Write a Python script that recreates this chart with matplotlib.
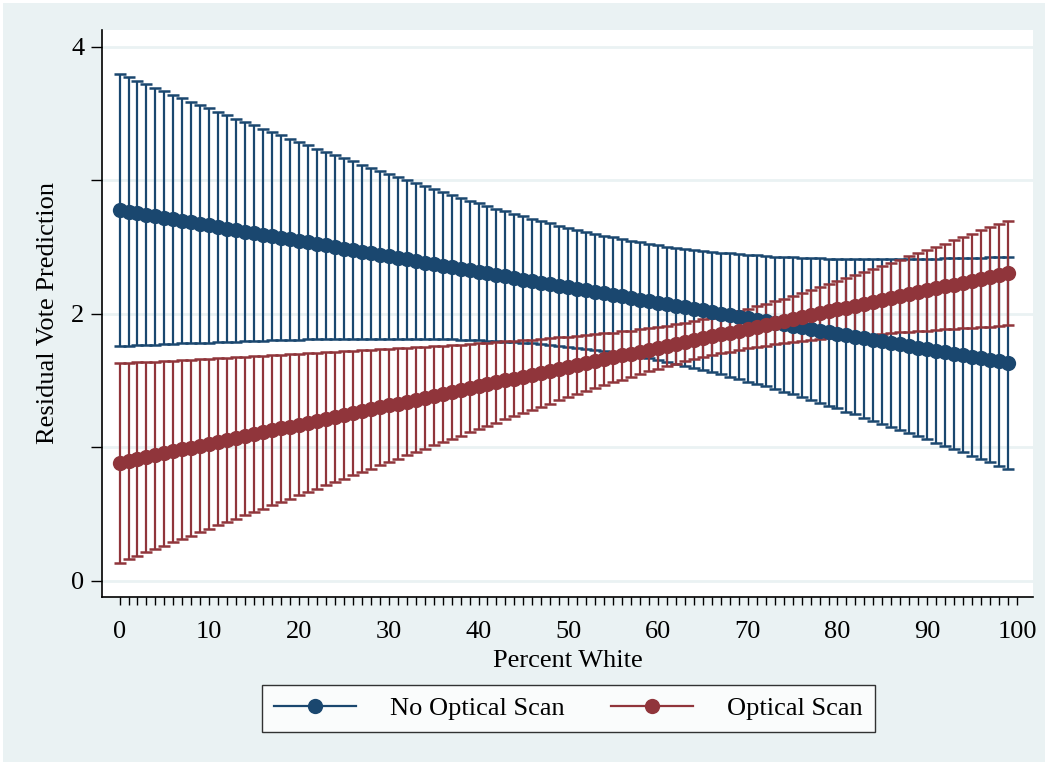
import matplotlib
matplotlib.use('Agg')
import matplotlib.pyplot as plt
from matplotlib.patches import Rectangle

plt.rcParams['font.family'] = ['Liberation Serif', 'DejaVu Serif']

BLUE = '#1a476f'
RED = '#90353b'
BG = '#eaf2f3'

# percent white, 0..99
pct_white = list(range(100))

# no optical scan: prediction and 95% CI half width
no_scan_pred = [
    2.779, 2.767, 2.756, 2.744, 2.733, 2.721, 2.710, 2.698, 2.686, 2.675,
    2.663, 2.652, 2.640, 2.628, 2.617, 2.605, 2.594, 2.582, 2.571, 2.559,
    2.547, 2.536, 2.524, 2.513, 2.501, 2.490, 2.478, 2.466, 2.455, 2.443,
    2.432, 2.420, 2.408, 2.397, 2.385, 2.374, 2.362, 2.351, 2.339, 2.327,
    2.316, 2.304, 2.293, 2.281, 2.269, 2.258, 2.246, 2.235, 2.223, 2.212,
    2.200, 2.188, 2.177, 2.165, 2.154, 2.142, 2.131, 2.119, 2.107, 2.096,
    2.084, 2.073, 2.061, 2.049, 2.038, 2.026, 2.015, 2.003, 1.992, 1.980,
    1.968, 1.957, 1.945, 1.934, 1.922, 1.910, 1.899, 1.887, 1.876, 1.864,
    1.853, 1.841, 1.829, 1.818, 1.806, 1.795, 1.783, 1.772, 1.760, 1.748,
    1.737, 1.725, 1.714, 1.702, 1.690, 1.679, 1.667, 1.656, 1.644, 1.633]
no_scan_ci = [
    1.020, 1.005, 0.991, 0.976, 0.962, 0.948, 0.933, 0.919, 0.905, 0.891,
    0.877, 0.863, 0.849, 0.835, 0.821, 0.807, 0.794, 0.780, 0.767, 0.754,
    0.740, 0.727, 0.714, 0.702, 0.689, 0.676, 0.664, 0.652, 0.640, 0.628,
    0.616, 0.605, 0.594, 0.582, 0.572, 0.561, 0.551, 0.541, 0.531, 0.522,
    0.513, 0.504, 0.496, 0.488, 0.481, 0.474, 0.467, 0.461, 0.455, 0.450,
    0.445, 0.441, 0.438, 0.435, 0.432, 0.431, 0.429, 0.429, 0.429, 0.429,
    0.431, 0.432, 0.435, 0.438, 0.441, 0.445, 0.450, 0.455, 0.461, 0.467,
    0.474, 0.481, 0.488, 0.496, 0.504, 0.513, 0.522, 0.531, 0.541, 0.551,
    0.561, 0.572, 0.582, 0.594, 0.605, 0.616, 0.628, 0.640, 0.652, 0.664,
    0.676, 0.689, 0.702, 0.714, 0.727, 0.740, 0.754, 0.767, 0.780, 0.794]

# optical scan
scan_pred = [
    0.884, 0.898, 0.913, 0.927, 0.941, 0.956, 0.970, 0.985, 0.999, 1.013,
    1.028, 1.042, 1.056, 1.071, 1.085, 1.100, 1.114, 1.128, 1.143, 1.157,
    1.171, 1.186, 1.200, 1.215, 1.229, 1.243, 1.258, 1.272, 1.286, 1.301,
    1.315, 1.329, 1.344, 1.358, 1.373, 1.387, 1.401, 1.416, 1.430, 1.444,
    1.459, 1.473, 1.488, 1.502, 1.516, 1.531, 1.545, 1.559, 1.574, 1.588,
    1.603, 1.617, 1.631, 1.646, 1.660, 1.674, 1.689, 1.703, 1.717, 1.732,
    1.746, 1.761, 1.775, 1.789, 1.804, 1.818, 1.832, 1.847, 1.861, 1.876,
    1.890, 1.904, 1.919, 1.933, 1.947, 1.962, 1.976, 1.990, 2.005, 2.019,
    2.034, 2.048, 2.062, 2.077, 2.091, 2.105, 2.120, 2.134, 2.149, 2.163,
    2.177, 2.192, 2.206, 2.220, 2.235, 2.249, 2.264, 2.278, 2.292, 2.307]
scan_ci = [
    0.746, 0.735, 0.724, 0.713, 0.702, 0.691, 0.680, 0.669, 0.659, 0.648,
    0.637, 0.626, 0.615, 0.605, 0.594, 0.583, 0.572, 0.562, 0.551, 0.540,
    0.529, 0.519, 0.508, 0.497, 0.487, 0.476, 0.466, 0.455, 0.445, 0.434,
    0.424, 0.413, 0.403, 0.392, 0.382, 0.372, 0.362, 0.351, 0.341, 0.331,
    0.321, 0.311, 0.301, 0.292, 0.282, 0.272, 0.263, 0.254, 0.245, 0.236,
    0.227, 0.218, 0.210, 0.202, 0.194, 0.187, 0.180, 0.173, 0.167, 0.161,
    0.156, 0.152, 0.148, 0.145, 0.143, 0.142, 0.141, 0.142, 0.143, 0.145,
    0.148, 0.152, 0.156, 0.161, 0.167, 0.173, 0.180, 0.187, 0.194, 0.202,
    0.210, 0.218, 0.227, 0.236, 0.245, 0.254, 0.263, 0.272, 0.282, 0.292,
    0.301, 0.311, 0.321, 0.331, 0.341, 0.351, 0.362, 0.372, 0.382, 0.392]

series = [('No Optical Scan', no_scan_pred, no_scan_ci, BLUE),
          ('Optical Scan', scan_pred, scan_ci, RED)]

fig = plt.figure(figsize=(10.48, 7.65), dpi=100, facecolor='white')
# stata-style graph region with thin white margin
fig.patches.append(Rectangle((3 / 1048, 3 / 765), 1 - 6 / 1048, 1 - 6 / 765,
                             transform=fig.transFigure, facecolor=BG,
                             edgecolor='none', zorder=-10))
ax = fig.add_axes([0.0978, 0.2196, 0.888, 0.7412])
ax.set_facecolor('white')

for name, pred, ci, color in series:
    ax.errorbar(pct_white, pred, yerr=ci, fmt='none', ecolor=color,
                elinewidth=1.6, capsize=4.3, capthick=1.8, zorder=3)
for name, pred, ci, color in series:
    ax.plot(pct_white, pred, color=color, lw=1.6, marker='o', ms=11,
            markeredgewidth=0, label=name, zorder=4)

ax.set_xlim(-1.9, 101.8)
ax.set_ylim(-0.12, 4.127)
ax.set_xticks(range(0, 101, 10))
ax.set_xticks(range(0, 101), minor=True)
ax.set_yticks([0, 2, 4])
ax.set_yticks([0, 1, 2, 3, 4], minor=True)
ax.tick_params(axis='x', which='both', length=6, width=1, labelsize=19, pad=11)
ax.tick_params(axis='y', which='both', length=8, width=1, labelsize=19, pad=5)
ax.grid(True, axis='y', which='both', color=BG, lw=2, zorder=0)
ax.set_axisbelow(True)
for side in ['top', 'right']:
    ax.spines[side].set_visible(False)
for side in ['left', 'bottom']:
    ax.spines[side].set_linewidth(1.2)

ax.set_xlabel('Percent White', fontsize=19, labelpad=5)
ax.set_ylabel('Residual Vote Prediction', fontsize=19, labelpad=9)

leg = fig.legend(loc='center', bbox_to_anchor=(0.5425, 0.0739), ncol=2,
                 fontsize=19, frameon=True, fancybox=False, numpoints=1,
                 handlelength=3.1, handletextpad=1.3, columnspacing=1.75,
                 borderpad=0.45)
leg.get_frame().set_edgecolor('black')
leg.get_frame().set_linewidth(1.0)

plt.savefig('out.png', dpi=100, facecolor=fig.get_facecolor())
